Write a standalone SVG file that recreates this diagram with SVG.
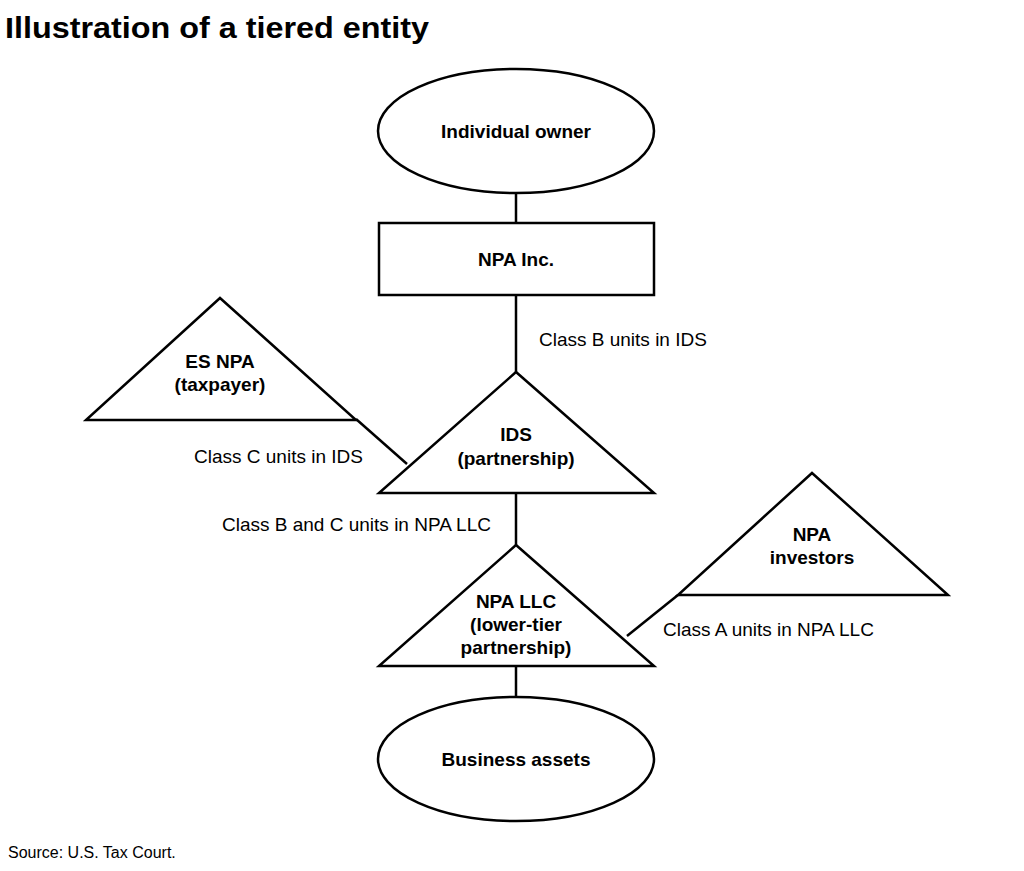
<svg xmlns="http://www.w3.org/2000/svg" width="1024" height="871" viewBox="0 0 1024 871">
<style>
.s{fill:#fff;stroke:#000;stroke-width:2.5}
.c line{stroke:#000;stroke-width:2.5}
.n{font-family:"Liberation Sans",Arial,sans-serif;font-size:19px;font-weight:bold;text-anchor:middle}
.l{font-family:"Liberation Sans",Arial,sans-serif;font-size:19px}
</style>
<rect width="1024" height="871" fill="#fff"/>
<text x="5" y="38" font-family="'Liberation Sans',Arial,sans-serif" font-size="30" font-weight="bold" textLength="424" lengthAdjust="spacingAndGlyphs">Illustration of a tiered entity</text>
<g class="c">
<line x1="516" y1="193" x2="516" y2="223"/>
<line x1="516" y1="295" x2="516" y2="372"/>
<line x1="356" y1="419" x2="407" y2="464"/>
<line x1="516" y1="493" x2="516" y2="545"/>
<line x1="678" y1="595" x2="627" y2="636"/>
<line x1="516" y1="666" x2="516" y2="697"/>
</g>
<text class="l" x="539" y="346">Class B units in IDS</text>
<text class="l" x="194" y="463">Class C units in IDS</text>
<text class="l" x="222" y="531">Class B and C units in NPA LLC</text>
<text class="l" x="663" y="636">Class A units in NPA LLC</text>
<g id="owner"><ellipse class="s" cx="516" cy="131" rx="138" ry="62"/><text class="n" x="516" y="138">Individual owner</text></g>
<g id="npainc"><rect class="s" x="379" y="223" width="275" height="72"/><text class="n" x="516" y="266">NPA Inc.</text></g>
<g id="esnpa"><polygon class="s" points="220,298 86,420 356,420"/><text class="n" x="220" y="368">ES NPA</text><text class="n" x="220" y="391">(taxpayer)</text></g>
<g id="ids"><polygon class="s" points="516,372 379,493 654,493"/><text class="n" x="516" y="441">IDS</text><text class="n" x="516" y="465">(partnership)</text></g>
<g id="investors"><polygon class="s" points="812,473 678,595 948,595"/><text class="n" x="812" y="541">NPA</text><text class="n" x="812" y="564">investors</text></g>
<g id="npallc"><polygon class="s" points="516,545 379,666 654,666"/><text class="n" x="516" y="608">NPA LLC</text><text class="n" x="516" y="631">(lower-tier</text><text class="n" x="516" y="654">partnership)</text></g>
<g id="assets"><ellipse class="s" cx="516" cy="759" rx="138" ry="62"/><text class="n" x="516" y="766">Business assets</text></g>
<text x="8" y="858" font-family="'Liberation Sans',Arial,sans-serif" font-size="16">Source: U.S. Tax Court.</text>
</svg>
